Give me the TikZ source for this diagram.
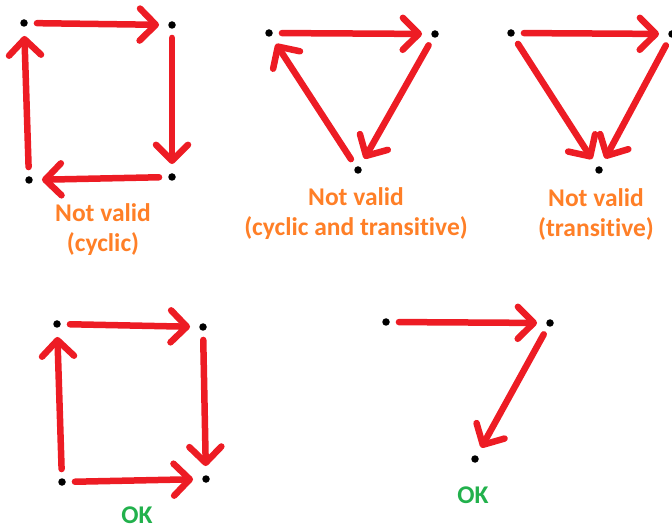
\documentclass[tikz,border=0pt]{standalone}
\usepackage{fontspec}
\setmainfont{Carlito}[Ligatures=NoCommon]
\usetikzlibrary{arrows.meta}
\definecolor{paintred}{HTML}{ED1C24}
\definecolor{paintorange}{HTML}{FF7F27}
\definecolor{paintgreen}{HTML}{22B14C}
\begin{document}
\begin{tikzpicture}[x=1pt,y=1pt,
  vtx/.style={circle,fill=black,inner sep=0pt,minimum size=7.5pt},
  edge/.style={draw=paintred,line width=6.5pt,line cap=round,
    shorten <=9pt,shorten >=9pt,
    -{Straight Barb[length=16pt,width=32pt,round]}},
  lbl/.style={font=\fontsize{25.5}{30}\selectfont\bfseries,align=center},
  oklbl/.style={lbl,text=paintgreen,anchor=base,inner sep=1pt}
]
\useasboundingbox (0,0) rectangle (672,528);

% square cycle
\node[vtx] (a) at (24,505) {};
\node[vtx] (b) at (172,503) {};
\node[vtx] (c) at (172,351) {};
\node[vtx] (d) at (29,348) {};
\draw[edge] (a) -- (b);
\draw[edge] (b) -- (c);
\draw[edge] (c) -- (d);
\draw[edge] (d) -- (a);
\node[lbl,text=paintorange] (l1) at (103,298) {Not valid\\(cyclic)};

% triangle cycle
\node[vtx] (e) at (269,495) {};
\node[vtx] (f) at (435,494) {};
\node[vtx] (g) at (358,358) {};
\draw[edge] (e) -- (f);
\draw[edge] (f) -- (g);
\draw[edge] (g) -- (e);
\node[lbl,text=paintorange] (l2) at (356,314) {Not valid\\(cyclic and transitive)};

% transitive triangle
\node[vtx] (h) at (511,495) {};
\node[vtx] (i) at (672,494) {};
\node[vtx] (j) at (599,358) {};
\draw[edge] (h) -- (i);
\draw[edge] (h) -- (j);
\draw[edge] (i) -- (j);
\node[lbl,text=paintorange] (l3) at (596,314) {Not valid\\(transitive)};

% square, two paths
\node[vtx] (k) at (57,204) {};
\node[vtx] (l) at (203,201) {};
\node[vtx] (m) at (206,49) {};
\node[vtx] (n) at (62,46) {};
\draw[edge] (k) -- (l);
\draw[edge] (l) -- (m);
\draw[edge] (n) -- (k);
\draw[edge] (n) -- (m);
\node[oklbl] (l4) at (137,5) {OK};

% simple chain
\node[vtx] (o) at (386,206) {};
\node[vtx] (p) at (550,205) {};
\node[vtx] (q) at (475,69) {};
\draw[edge] (o) -- (p);
\draw[edge] (p) -- (q);
\node[oklbl] (l5) at (473,25) {OK};
\end{tikzpicture}
\end{document}
